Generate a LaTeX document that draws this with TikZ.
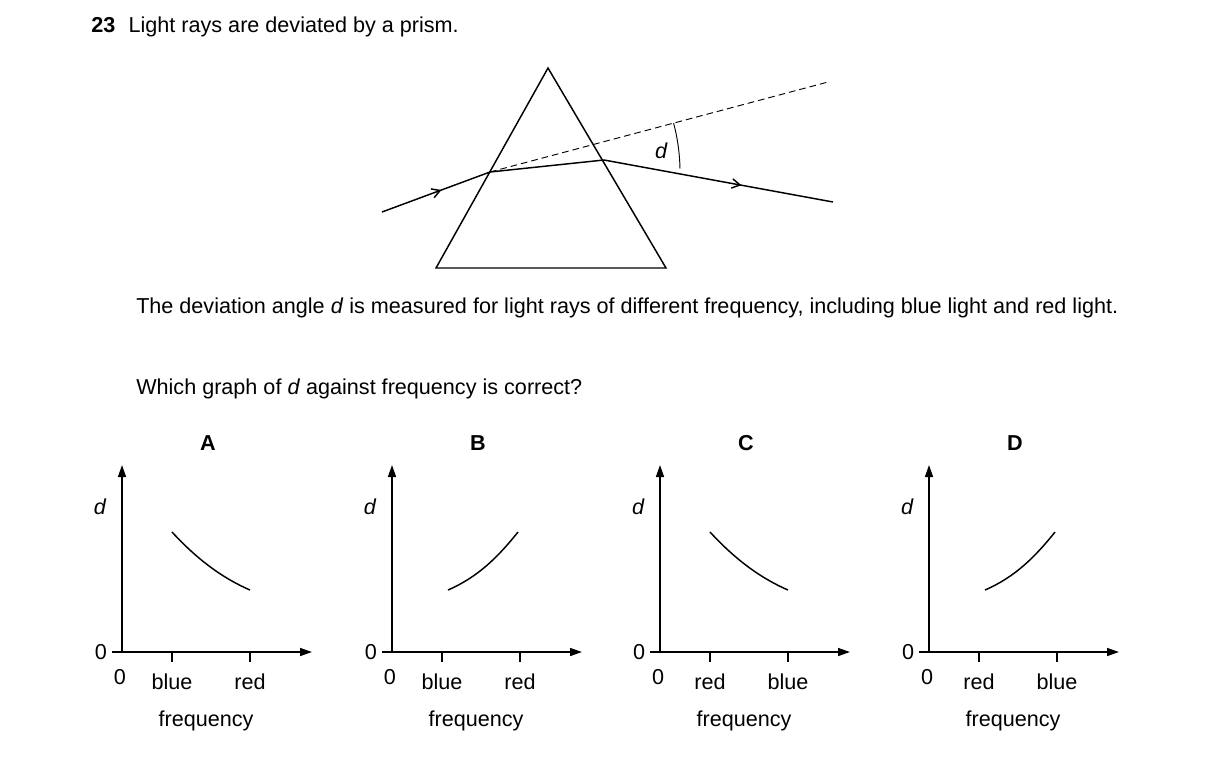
\documentclass[tikz,border=0pt]{standalone}
\usepackage{fontspec}
\setmainfont{Liberation Sans}
\usetikzlibrary{arrows.meta,decorations.markings}
\begin{document}
\begin{tikzpicture}[x=0.75pt,y=-0.75pt,
  txt/.style={font=\fontsize{16.2pt}{19.5pt}\selectfont,inner sep=0pt},
  ln/.style={line width=1.1pt},
  ax/.style={line width=1.1pt,-{Triangle[length=9pt,width=6pt]}},
  mid/.style={decoration={markings,mark=at position 0.55 with {\arrow{Straight Barb[length=6pt,width=7pt]}}},postaction=decorate}]
\useasboundingbox (0,0) rectangle (1216,758);
\node[txt,anchor=west] (q) at (91,27) {\textbf{23}\hspace{10pt}Light rays are deviated by a prism.};
% prism
\coordinate (ap) at (548,68); \coordinate (bl) at (436,268); \coordinate (br) at (666,268);
\draw[ln] (ap) -- (bl) -- (br) -- cycle;
\coordinate (s) at (382,212); \coordinate (p1) at (490,172); \coordinate (p2) at (604,160); \coordinate (e) at (833,202);
\coordinate (de) at (828,82);
\draw[line width=0.7pt,dash pattern=on 5pt off 3pt] (p1) -- (de);
\draw[ln,mid] (s) -- (p1);
\draw[ln] (p1) -- (p2);
\draw[ln,decoration={markings,mark=at position 0.6 with {\arrow{Straight Barb[length=6pt,width=7pt]}}},postaction=decorate] (p2) -- (e);
\draw[line width=0.7pt] (p1) ++(-14.9:190) arc[start angle=-14.9,end angle=-1.0,radius=190];
\node[txt,font=\fontsize{16.2pt}{18pt}\selectfont\itshape] (dl) at (661,151) {d};
\node[txt,anchor=north west,text width=741pt,align=justify] (para) at (136,298) {The deviation angle \textit{d} is measured for light rays of different frequency, including blue light and red light.};
\node[txt,anchor=west] (wh) at (136,389) {Which graph of \textit{d} against frequency is correct?};
% graphs
\foreach \ox/\lab/\la/\lb/\inc in {0/A/blue/red/0,270/B/blue/red/1,538/C/red/blue/0,807/D/red/blue/1}{
  \begin{scope}[xshift=\ox*0.75pt]
  \node[txt,font=\fontsize{16.2pt}{18pt}\selectfont\bfseries] (t\lab) at (208,443) {\lab};
  \coordinate (o\lab) at (122,652);
  \draw[ax] (122,652) -- (122,465);
  \draw[ax] (112,652) -- (312,652);
  \draw[ln] (172,652) -- (172,662);
  \draw[ln] (250,652) -- (250,662);
  \node[txt] (z1\lab) at (101,652) {0};
  \node[txt] (z2\lab) at (120,677) {0};
  \node[txt,font=\fontsize{16.2pt}{18pt}\selectfont\itshape] (d\lab) at (100,507) {d};
  \node[txt] (a\lab) at (172,682) {\la};
  \node[txt] (b\lab) at (250,682) {\lb};
  \node[txt] (f\lab) at (206,721) {frequency};
  \ifnum\inc=0
    \draw[ln] (172,532) .. controls (195,557) and (220,577) .. (250,590);
  \else
    \draw[ln] (178,590) .. controls (208,577) and (228,557) .. (248,532);
  \fi
  \end{scope}}
\end{tikzpicture}
\end{document}
